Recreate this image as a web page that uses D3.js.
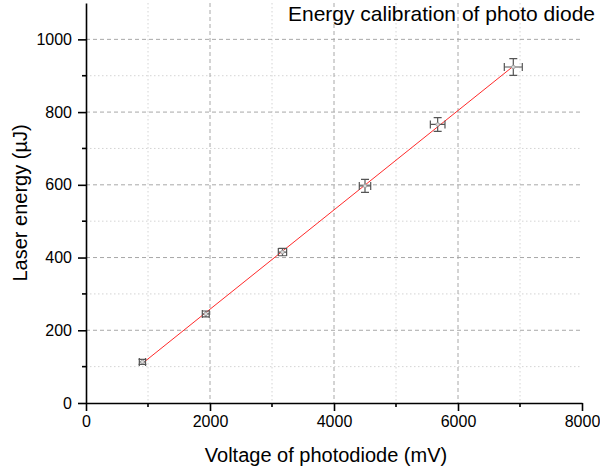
<!DOCTYPE html>
<html>
<head>
<meta charset="utf-8">
<script src="https://cdn.jsdelivr.net/npm/d3@7"></script>
<style>
  html, body { margin: 0; padding: 0; background: #fff; }
  svg { display: block; font-family: "Liberation Sans", Arial, sans-serif; }
</style>
</head>
<body>
<div id="chart"></div>
<script>
// measured photodiode voltage (mV) and laser energy (µJ), with uncertainties
const voltage = [910, 1932, 3169, 4500, 5672, 6892];
const voltageErr = [50, 56, 67, 92, 118, 145];
const energy = [113, 245, 415, 597, 766, 924];
const energyErr = [7, 8, 10, 18, 19, 23];

const xMajorTicks = [0, 2000, 4000, 6000, 8000];
const xMinorTicks = [1000, 3000, 5000, 7000];
const yMajorTicks = [0, 200, 400, 600, 800, 1000];
const yMinorTicks = [100, 300, 500, 700, 900];

const title = "Energy calibration of photo diode";
const xLabel = "Voltage of photodiode (mV)";
const yLabel = "Laser energy (µJ)";

{
  const width = 600, height = 472;
  const margin = { top: 3, right: 18, bottom: 69, left: 86 };
  const innerW = width - margin.left - margin.right;
  const innerH = height - margin.top - margin.bottom;

  const svg = d3.select('#chart').append('svg')
    .attr('width', width)
    .attr('height', height);

  const g = svg.append('g')
    .attr('transform', `translate(${margin.left},${margin.top})`);

  const x = d3.scaleLinear().domain([0, 8000]).range([0, innerW]);
  const y = d3.scaleLinear().domain([0, 1100]).range([innerH, 0]);

  // grid: dotted minor lines, dashed major lines
  g.append('g').selectAll('line')
    .data(yMinorTicks).join('line')
    .attr('x1', 0).attr('x2', innerW)
    .attr('y1', d => y(d)).attr('y2', d => y(d))
    .attr('stroke', '#d4d4d4').attr('stroke-dasharray', '1.5,2.5');
  g.append('g').selectAll('line')
    .data(xMinorTicks).join('line')
    .attr('x1', d => x(d)).attr('x2', d => x(d))
    .attr('y1', 0).attr('y2', innerH)
    .attr('stroke', '#d4d4d4').attr('stroke-dasharray', '1.5,2.5');
  g.append('g').selectAll('line')
    .data(yMajorTicks.filter(d => d > 0)).join('line')
    .attr('x1', 0).attr('x2', innerW)
    .attr('y1', d => y(d)).attr('y2', d => y(d))
    .attr('stroke', '#a8a8a8').attr('stroke-dasharray', '4,3');
  g.append('g').selectAll('line')
    .data(xMajorTicks.filter(d => d > 0 && d < 8000)).join('line')
    .attr('x1', d => x(d)).attr('x2', d => x(d))
    .attr('y1', 0).attr('y2', innerH)
    .attr('stroke', '#a8a8a8').attr('stroke-dasharray', '4,3');

  // linear fit across the measured range
  const fit = d3.range(voltage.length).map(i => [voltage[i], energy[i]]);
  const mx = d3.mean(voltage), my = d3.mean(energy);
  const slope = d3.sum(fit, d => (d[0] - mx) * (d[1] - my)) / d3.sum(fit, d => (d[0] - mx) ** 2);
  const intercept = my - slope * mx;
  const x0 = d3.min(voltage), x1 = d3.max(voltage);
  g.append('line')
    .attr('x1', x(x0)).attr('y1', y(slope * x0 + intercept))
    .attr('x2', x(x1)).attr('y2', y(slope * x1 + intercept))
    .attr('stroke', '#ff2a2a').attr('stroke-width', 1);

  // error bars
  const cap = 4;
  const pts = g.append('g').selectAll('g')
    .data(voltage.map((v, i) => ({ v, e: energy[i], dv: voltageErr[i], de: energyErr[i] })))
    .join('g')
    .attr('stroke', '#555').attr('stroke-width', 1.2).attr('fill', 'none');
  pts.append('path')
    .attr('d', d => {
      const cx = x(d.v), cy = y(d.e);
      const xl = x(d.v - d.dv), xr = x(d.v + d.dv);
      const yt = y(d.e + d.de), yb = y(d.e - d.de);
      return `M${xl},${cy}H${xr}` +
        `M${xl},${cy - cap}V${cy + cap}M${xr},${cy - cap}V${cy + cap}` +
        `M${cx},${yt}V${yb}` +
        `M${cx - cap},${yt}H${cx + cap}M${cx - cap},${yb}H${cx + cap}`;
    });
  pts.append('circle')
    .attr('cx', d => x(d.v)).attr('cy', d => y(d.e))
    .attr('r', 1.8)
    .attr('fill', '#ddd').attr('stroke', '#999').attr('stroke-width', 0.8);

  // axes
  const axisStyle = sel => {
    sel.select('.domain').attr('stroke', '#000').attr('stroke-width', 1.6);
    sel.selectAll('.tick line').attr('stroke', '#000').attr('stroke-width', 1.6);
    sel.selectAll('.tick text').attr('fill', '#000').style('font-size', '16px')
      .style('font-family', '"Liberation Sans", Arial, sans-serif');
  };

  const xAxis = g.append('g')
    .attr('transform', `translate(0,${innerH})`)
    .call(d3.axisBottom(x).tickValues(xMajorTicks).tickFormat(d3.format('d'))
      .tickSizeInner(8).tickSizeOuter(0).tickPadding(5))
    .call(axisStyle);
  xAxis.selectAll('.minor').data(xMinorTicks).join('line')
    .attr('class', 'minor')
    .attr('x1', d => x(d)).attr('x2', d => x(d))
    .attr('y1', 0).attr('y2', 4)
    .attr('stroke', '#000').attr('stroke-width', 1.6);

  const yAxis = g.append('g')
    .call(d3.axisLeft(y).tickValues(yMajorTicks).tickFormat(d3.format('d'))
      .tickSizeInner(8).tickSizeOuter(0).tickPadding(6))
    .call(axisStyle);
  yAxis.selectAll('.minor').data(yMinorTicks).join('line')
    .attr('class', 'minor')
    .attr('x1', -4).attr('x2', 0)
    .attr('y1', d => y(d)).attr('y2', d => y(d))
    .attr('stroke', '#000').attr('stroke-width', 1.6);

  // titles
  svg.append('text')
    .attr('x', 595).attr('y', 21)
    .attr('text-anchor', 'end')
    .style('font-size', '21px')
    .text(title);

  svg.append('text')
    .attr('x', margin.left + x(4000) - 8).attr('y', 462)
    .attr('text-anchor', 'middle')
    .style('font-size', '20px')
    .text(xLabel);

  svg.append('text')
    .attr('transform', `translate(27,${margin.top + y(550)}) rotate(-90)`)
    .attr('text-anchor', 'middle')
    .style('font-size', '20px')
    .text(yLabel);
}
</script>
</body>
</html>
